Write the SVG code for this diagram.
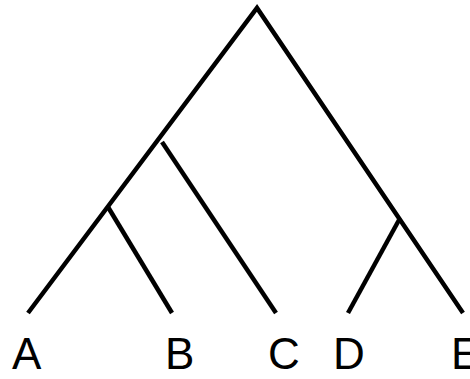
<svg xmlns="http://www.w3.org/2000/svg" width="470" height="379" viewBox="0 0 470 379">
<style>
.br{stroke:#000;stroke-width:4.5;fill:none;stroke-linecap:butt;stroke-linejoin:miter}
.lb{font-family:"Liberation Sans",Arial,sans-serif;font-size:44px;fill:#000}
</style>
<rect width="470" height="379" fill="#fff"/>
<g id="connectors">
<path class="br" d="M28,313 L257,8 L463,313"/>
<path class="br" d="M108,207 L172,313"/>
<path class="br" d="M162,142 L276,313"/>
<path class="br" d="M399,220 L348,313"/>
</g>
<g id="A"><text class="lb" x="12" y="369">A</text></g>
<g id="B"><text class="lb" x="165" y="369">B</text></g>
<g id="C"><text class="lb" x="268" y="369">C</text></g>
<g id="D"><text class="lb" x="333" y="369">D</text></g>
<g id="E"><text class="lb" x="451" y="369">E</text></g>
</svg>
